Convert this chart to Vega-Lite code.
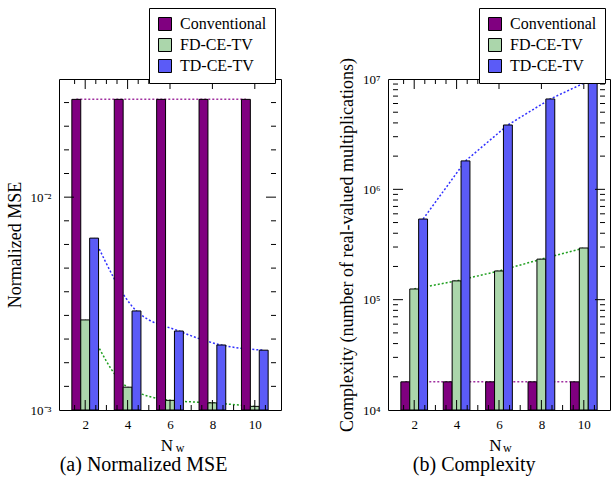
{
  "$schema": "https://vega.github.io/schema/vega-lite/v6.json",
  "padding": {"left": 5, "top": 7, "right": 0, "bottom": 0},
  "bounds": "flush",
  "spacing": 107,
  "datasets": {
    "mse": [
      {"N": 2, "series": "Conventional", "value": 0.0288},
      {"N": 4, "series": "Conventional", "value": 0.0288},
      {"N": 6, "series": "Conventional", "value": 0.0288},
      {"N": 8, "series": "Conventional", "value": 0.0288},
      {"N": 10, "series": "Conventional", "value": 0.0288},
      {"N": 2, "series": "FD-CE-TV", "value": 0.00265},
      {"N": 4, "series": "FD-CE-TV", "value": 0.00128},
      {"N": 6, "series": "FD-CE-TV", "value": 0.00111},
      {"N": 8, "series": "FD-CE-TV", "value": 0.00108},
      {"N": 10, "series": "FD-CE-TV", "value": 0.00104},
      {"N": 2, "series": "TD-CE-TV", "value": 0.00642},
      {"N": 4, "series": "TD-CE-TV", "value": 0.00292},
      {"N": 6, "series": "TD-CE-TV", "value": 0.00235},
      {"N": 8, "series": "TD-CE-TV", "value": 0.00202},
      {"N": 10, "series": "TD-CE-TV", "value": 0.00191}
    ],
    "cx": [
      {"N": 2, "series": "Conventional", "value": 18000},
      {"N": 4, "series": "Conventional", "value": 18000},
      {"N": 6, "series": "Conventional", "value": 18000},
      {"N": 8, "series": "Conventional", "value": 18000},
      {"N": 10, "series": "Conventional", "value": 18000},
      {"N": 2, "series": "FD-CE-TV", "value": 125000},
      {"N": 4, "series": "FD-CE-TV", "value": 148000},
      {"N": 6, "series": "FD-CE-TV", "value": 182000},
      {"N": 8, "series": "FD-CE-TV", "value": 233000},
      {"N": 10, "series": "FD-CE-TV", "value": 294000},
      {"N": 2, "series": "TD-CE-TV", "value": 538000},
      {"N": 4, "series": "TD-CE-TV", "value": 1810000},
      {"N": 6, "series": "TD-CE-TV", "value": 3830000},
      {"N": 8, "series": "TD-CE-TV", "value": 6590000},
      {"N": 10, "series": "TD-CE-TV", "value": 10000000}
    ],
    "xMajor": [{"v": 2}, {"v": 4}, {"v": 6}, {"v": 8}, {"v": 10}],
    "xMinor": [{"v": 1.5}, {"v": 2.5}, {"v": 3}, {"v": 3.5}, {"v": 4.5}, {"v": 5}, {"v": 5.5}, {"v": 6.5}, {"v": 7}, {"v": 7.5}, {"v": 8.5}, {"v": 9}, {"v": 9.5}, {"v": 10.5}],
    "aMajor": [{"v": 0.01}],
    "aMinor": [{"v": 0.0012915}, {"v": 0.0016681}, {"v": 0.0021544}, {"v": 0.0027826}, {"v": 0.0035938}, {"v": 0.0046416}, {"v": 0.0059948}, {"v": 0.0077426}, {"v": 0.012915}, {"v": 0.016681}, {"v": 0.021544}, {"v": 0.027826}],
    "bMajor": [{"v": 100000}, {"v": 1000000}],
    "bMinor": [{"v": 20000}, {"v": 30000}, {"v": 40000}, {"v": 50000}, {"v": 60000}, {"v": 70000}, {"v": 80000}, {"v": 90000}, {"v": 200000}, {"v": 300000}, {"v": 400000}, {"v": 500000}, {"v": 600000}, {"v": 700000}, {"v": 800000}, {"v": 900000}, {"v": 2000000}, {"v": 3000000}, {"v": 4000000}, {"v": 5000000}, {"v": 6000000}, {"v": 7000000}, {"v": 8000000}, {"v": 9000000}]
  },
  "resolve": {"scale": {"fill": "independent"}, "legend": {"fill": "independent"}},
  "hconcat": [
    {
      "data": {"name": "mse"},
      "width": 222,
      "height": 331,
      "title": {"text": "(a)  Normalized MSE", "orient": "bottom", "frame": "bounds", "anchor": "middle", "fontSize": 20, "fontWeight": "normal", "color": "black", "offset": 1},
      "layer": [
        {
          "transform": [{"filter": "datum.series === 'Conventional'"}],
          "mark": {"type": "line", "stroke": "#a030a0", "strokeWidth": 1.5, "strokeDash": [2, 2], "xOffset": -8.9, "interpolate": "monotone"},
          "encoding": {
            "x": {"field": "N", "type": "quantitative", "scale": {"domain": [1, 11], "nice": false, "zero": false},
              "axis": {"orient": "bottom", "values": [2, 4, 6, 8, 10], "ticks": false, "grid": false, "domain": false, "labelFontSize": 13, "labelColor": "black", "labelPadding": 8, "labelFlush": false, "labelOverlap": false, "title": "N", "titleFontSize": 17, "titleFontWeight": "normal", "titleColor": "black", "titlePadding": 6, "titleX": 107.5}},
            "y": {"field": "value", "type": "quantitative", "scale": {"type": "log", "domain": [0.001, 0.0359], "nice": false},
              "axis": {"orient": "left", "values": [0.001, 0.01], "labelExpr": "datum.value < 0.005 ? '10⁻³' : '10⁻²'", "ticks": false, "grid": false, "domain": false, "labelFontSize": 13, "labelColor": "black", "labelPadding": 8, "labelFlush": false, "labelOverlap": false, "title": "Normalized MSE", "titleFontSize": 18, "titleFontWeight": "normal", "titleColor": "black", "titlePadding": 6}}
          }
        },
        {
          "transform": [{"filter": "datum.series === 'FD-CE-TV'"}],
          "mark": {"type": "line", "stroke": "#20a020", "strokeWidth": 1.5, "strokeDash": [2, 2], "xOffset": 0, "interpolate": "monotone"},
          "encoding": {
            "x": {"field": "N", "type": "quantitative"},
            "y": {"field": "value", "type": "quantitative"}
          }
        },
        {
          "transform": [{"filter": "datum.series === 'TD-CE-TV'"}],
          "mark": {"type": "line", "stroke": "#3030ff", "strokeWidth": 1.5, "strokeDash": [2, 2], "xOffset": 8.9, "interpolate": "monotone"},
          "encoding": {
            "x": {"field": "N", "type": "quantitative"},
            "y": {"field": "value", "type": "quantitative"}
          }
        },
        {
          "transform": [{"filter": "datum.series === 'Conventional'"}],
          "mark": {"type": "bar", "width": 8.9, "xOffset": -8.9, "stroke": "black", "strokeWidth": 1},
          "encoding": {
            "x": {"field": "N", "type": "quantitative"},
            "y": {"field": "value", "type": "quantitative"},
            "y2": {"datum": 0.001},
            "fill": {"field": "series", "type": "nominal", "scale": {"domain": ["Conventional", "FD-CE-TV", "TD-CE-TV"], "range": ["#800080", "#abd6ab", "#5b5bf7"]},
              "legend": {"orient": "none", "legendX": 90, "legendY": -71, "title": null, "symbolType": "square", "symbolSize": 169, "symbolStrokeColor": "black", "symbolStrokeWidth": 1, "symbolOpacity": 1, "labelFontSize": 16, "labelColor": "black", "labelLimit": 0, "labelOffset": 7, "strokeColor": "black", "fillColor": "white", "padding": 8, "rowPadding": 3, "cornerRadius": 0}}
          }
        },
        {
          "transform": [{"filter": "datum.series === 'FD-CE-TV'"}],
          "mark": {"type": "bar", "width": 8.9, "xOffset": 0, "stroke": "black", "strokeWidth": 1},
          "encoding": {
            "x": {"field": "N", "type": "quantitative"},
            "y": {"field": "value", "type": "quantitative"},
            "y2": {"datum": 0.001},
            "fill": {"field": "series", "type": "nominal"}
          }
        },
        {
          "transform": [{"filter": "datum.series === 'TD-CE-TV'"}],
          "mark": {"type": "bar", "width": 8.9, "xOffset": 8.9, "stroke": "black", "strokeWidth": 1},
          "encoding": {
            "x": {"field": "N", "type": "quantitative"},
            "y": {"field": "value", "type": "quantitative"},
            "y2": {"datum": 0.001},
            "fill": {"field": "series", "type": "nominal"}
          }
        },
        {
          "data": {"name": "aMajor"},
          "mark": {"type": "tick", "orient": "horizontal", "size": 10, "thickness": 1, "color": "black", "opacity": 1, "xOffset": 5},
          "encoding": {"x": {"datum": 1, "type": "quantitative"}, "y": {"field": "v", "type": "quantitative"}}
        },
        {
          "data": {"name": "aMajor"},
          "mark": {"type": "tick", "orient": "horizontal", "size": 10, "thickness": 1, "color": "black", "opacity": 1, "xOffset": -5},
          "encoding": {"x": {"datum": 11, "type": "quantitative"}, "y": {"field": "v", "type": "quantitative"}}
        },
        {
          "data": {"name": "aMinor"},
          "mark": {"type": "tick", "orient": "horizontal", "size": 5, "thickness": 1, "color": "black", "opacity": 1, "xOffset": 2.5},
          "encoding": {"x": {"datum": 1, "type": "quantitative"}, "y": {"field": "v", "type": "quantitative"}}
        },
        {
          "data": {"name": "aMinor"},
          "mark": {"type": "tick", "orient": "horizontal", "size": 5, "thickness": 1, "color": "black", "opacity": 1, "xOffset": -2.5},
          "encoding": {"x": {"datum": 11, "type": "quantitative"}, "y": {"field": "v", "type": "quantitative"}}
        },
        {
          "data": {"name": "xMajor"},
          "mark": {"type": "tick", "orient": "vertical", "size": 10, "thickness": 1, "color": "black", "opacity": 1, "yOffset": -5},
          "encoding": {"x": {"field": "v", "type": "quantitative"}, "y": {"datum": 0.001, "type": "quantitative"}}
        },
        {
          "data": {"name": "xMajor"},
          "mark": {"type": "tick", "orient": "vertical", "size": 10, "thickness": 1, "color": "black", "opacity": 1, "yOffset": 5},
          "encoding": {"x": {"field": "v", "type": "quantitative"}, "y": {"datum": 0.0359, "type": "quantitative"}}
        },
        {
          "data": {"name": "xMinor"},
          "mark": {"type": "tick", "orient": "vertical", "size": 5, "thickness": 1, "color": "black", "opacity": 1, "yOffset": -2.5},
          "encoding": {"x": {"field": "v", "type": "quantitative"}, "y": {"datum": 0.001, "type": "quantitative"}}
        },
        {
          "data": {"name": "xMinor"},
          "mark": {"type": "tick", "orient": "vertical", "size": 5, "thickness": 1, "color": "black", "opacity": 1, "yOffset": 2.5},
          "encoding": {"x": {"field": "v", "type": "quantitative"}, "y": {"datum": 0.0359, "type": "quantitative"}}
        },
        {
          "data": {"values": [{}]},
          "mark": {"type": "text", "text": "w", "fontSize": 12, "color": "black", "align": "center", "baseline": "alphabetic"},
          "encoding": {
            "x": {"datum": 6.48, "type": "quantitative"},
            "y": {"datum": 0.000636, "type": "quantitative"}
          }
        }
      ]
    },
    {
      "data": {"name": "cx"},
      "width": 222,
      "height": 331,
      "title": {"text": "(b)  Complexity", "orient": "bottom", "frame": "bounds", "anchor": "middle", "fontSize": 20, "fontWeight": "normal", "color": "black", "offset": 1},
      "layer": [
        {
          "transform": [{"filter": "datum.series === 'Conventional'"}],
          "mark": {"type": "line", "stroke": "#a030a0", "strokeWidth": 1.5, "strokeDash": [2, 2], "xOffset": -8.9},
          "encoding": {
            "x": {"field": "N", "type": "quantitative", "scale": {"domain": [1, 11], "nice": false, "zero": false},
              "axis": {"orient": "bottom", "values": [2, 4, 6, 8, 10], "ticks": false, "grid": false, "domain": false, "labelFontSize": 13, "labelColor": "black", "labelPadding": 8, "labelFlush": false, "labelOverlap": false, "title": "N", "titleFontSize": 17, "titleFontWeight": "normal", "titleColor": "black", "titlePadding": 6, "titleX": 107}},
            "y": {"field": "value", "type": "quantitative", "scale": {"type": "log", "domain": [10000, 10000000], "nice": false},
              "axis": {"orient": "left", "values": [10000, 100000, 1000000, 10000000], "labelExpr": "'10' + (datum.value >= 5000000 ? '⁷' : datum.value >= 500000 ? '⁶' : datum.value >= 50000 ? '⁵' : '⁴')", "ticks": false, "grid": false, "domain": false, "labelFontSize": 13, "labelColor": "black", "labelPadding": 8, "labelFlush": false, "labelOverlap": false, "title": "Complexity (number of real-valued multiplications)", "titleLimit": 0, "titleFontSize": 18, "titleFontWeight": "normal", "titleColor": "black", "titlePadding": 6}}
          }
        },
        {
          "transform": [{"filter": "datum.series === 'FD-CE-TV'"}],
          "mark": {"type": "line", "stroke": "#20a020", "strokeWidth": 1.5, "strokeDash": [2, 2], "xOffset": 0},
          "encoding": {
            "x": {"field": "N", "type": "quantitative"},
            "y": {"field": "value", "type": "quantitative"}
          }
        },
        {
          "transform": [{"filter": "datum.series === 'TD-CE-TV'"}],
          "mark": {"type": "line", "stroke": "#3030ff", "strokeWidth": 1.5, "strokeDash": [2, 2], "xOffset": 8.9},
          "encoding": {
            "x": {"field": "N", "type": "quantitative"},
            "y": {"field": "value", "type": "quantitative"}
          }
        },
        {
          "transform": [{"filter": "datum.series === 'Conventional'"}],
          "mark": {"type": "bar", "width": 8.9, "xOffset": -8.9, "stroke": "black", "strokeWidth": 1},
          "encoding": {
            "x": {"field": "N", "type": "quantitative"},
            "y": {"field": "value", "type": "quantitative"},
            "y2": {"datum": 10000},
            "fill": {"field": "series", "type": "nominal", "scale": {"domain": ["Conventional", "FD-CE-TV", "TD-CE-TV"], "range": ["#800080", "#abd6ab", "#5b5bf7"]},
              "legend": {"orient": "none", "legendX": 91, "legendY": -71, "title": null, "symbolType": "square", "symbolSize": 169, "symbolStrokeColor": "black", "symbolStrokeWidth": 1, "symbolOpacity": 1, "labelFontSize": 16, "labelColor": "black", "labelLimit": 0, "labelOffset": 7, "strokeColor": "black", "fillColor": "white", "padding": 8, "rowPadding": 3, "cornerRadius": 0}}
          }
        },
        {
          "transform": [{"filter": "datum.series === 'FD-CE-TV'"}],
          "mark": {"type": "bar", "width": 8.9, "xOffset": 0, "stroke": "black", "strokeWidth": 1},
          "encoding": {
            "x": {"field": "N", "type": "quantitative"},
            "y": {"field": "value", "type": "quantitative"},
            "y2": {"datum": 10000},
            "fill": {"field": "series", "type": "nominal"}
          }
        },
        {
          "transform": [{"filter": "datum.series === 'TD-CE-TV'"}],
          "mark": {"type": "bar", "width": 8.9, "xOffset": 8.9, "stroke": "black", "strokeWidth": 1},
          "encoding": {
            "x": {"field": "N", "type": "quantitative"},
            "y": {"field": "value", "type": "quantitative"},
            "y2": {"datum": 10000},
            "fill": {"field": "series", "type": "nominal"}
          }
        },
        {
          "data": {"name": "bMajor"},
          "mark": {"type": "tick", "orient": "horizontal", "size": 10, "thickness": 1, "color": "black", "opacity": 1, "xOffset": 5},
          "encoding": {"x": {"datum": 1, "type": "quantitative"}, "y": {"field": "v", "type": "quantitative"}}
        },
        {
          "data": {"name": "bMajor"},
          "mark": {"type": "tick", "orient": "horizontal", "size": 10, "thickness": 1, "color": "black", "opacity": 1, "xOffset": -5},
          "encoding": {"x": {"datum": 11, "type": "quantitative"}, "y": {"field": "v", "type": "quantitative"}}
        },
        {
          "data": {"name": "bMinor"},
          "mark": {"type": "tick", "orient": "horizontal", "size": 5, "thickness": 1, "color": "black", "opacity": 1, "xOffset": 2.5},
          "encoding": {"x": {"datum": 1, "type": "quantitative"}, "y": {"field": "v", "type": "quantitative"}}
        },
        {
          "data": {"name": "bMinor"},
          "mark": {"type": "tick", "orient": "horizontal", "size": 5, "thickness": 1, "color": "black", "opacity": 1, "xOffset": -2.5},
          "encoding": {"x": {"datum": 11, "type": "quantitative"}, "y": {"field": "v", "type": "quantitative"}}
        },
        {
          "data": {"name": "xMajor"},
          "mark": {"type": "tick", "orient": "vertical", "size": 10, "thickness": 1, "color": "black", "opacity": 1, "yOffset": -5},
          "encoding": {"x": {"field": "v", "type": "quantitative"}, "y": {"datum": 10000, "type": "quantitative"}}
        },
        {
          "data": {"name": "xMajor"},
          "mark": {"type": "tick", "orient": "vertical", "size": 10, "thickness": 1, "color": "black", "opacity": 1, "yOffset": 5},
          "encoding": {"x": {"field": "v", "type": "quantitative"}, "y": {"datum": 10000000, "type": "quantitative"}}
        },
        {
          "data": {"name": "xMinor"},
          "mark": {"type": "tick", "orient": "vertical", "size": 5, "thickness": 1, "color": "black", "opacity": 1, "yOffset": -2.5},
          "encoding": {"x": {"field": "v", "type": "quantitative"}, "y": {"datum": 10000, "type": "quantitative"}}
        },
        {
          "data": {"name": "xMinor"},
          "mark": {"type": "tick", "orient": "vertical", "size": 5, "thickness": 1, "color": "black", "opacity": 1, "yOffset": 2.5},
          "encoding": {"x": {"field": "v", "type": "quantitative"}, "y": {"datum": 10000000, "type": "quantitative"}}
        },
        {
          "data": {"values": [{}]},
          "mark": {"type": "text", "text": "w", "fontSize": 12, "color": "black", "align": "center", "baseline": "alphabetic"},
          "encoding": {
            "x": {"datum": 6.39, "type": "quantitative"},
            "y": {"datum": 4160, "type": "quantitative"}
          }
        }
      ]
    }
  ],
  "config": {
    "view": {"stroke": "black", "strokeWidth": 1},
    "font": "Liberation Serif, Times New Roman, serif",
    "axis": {"labelFont": "Liberation Serif", "titleFont": "Liberation Serif"},
    "legend": {"labelFont": "Liberation Serif"},
    "title": {"font": "Liberation Serif"},
    "text": {"font": "Liberation Serif"}
  }
}
